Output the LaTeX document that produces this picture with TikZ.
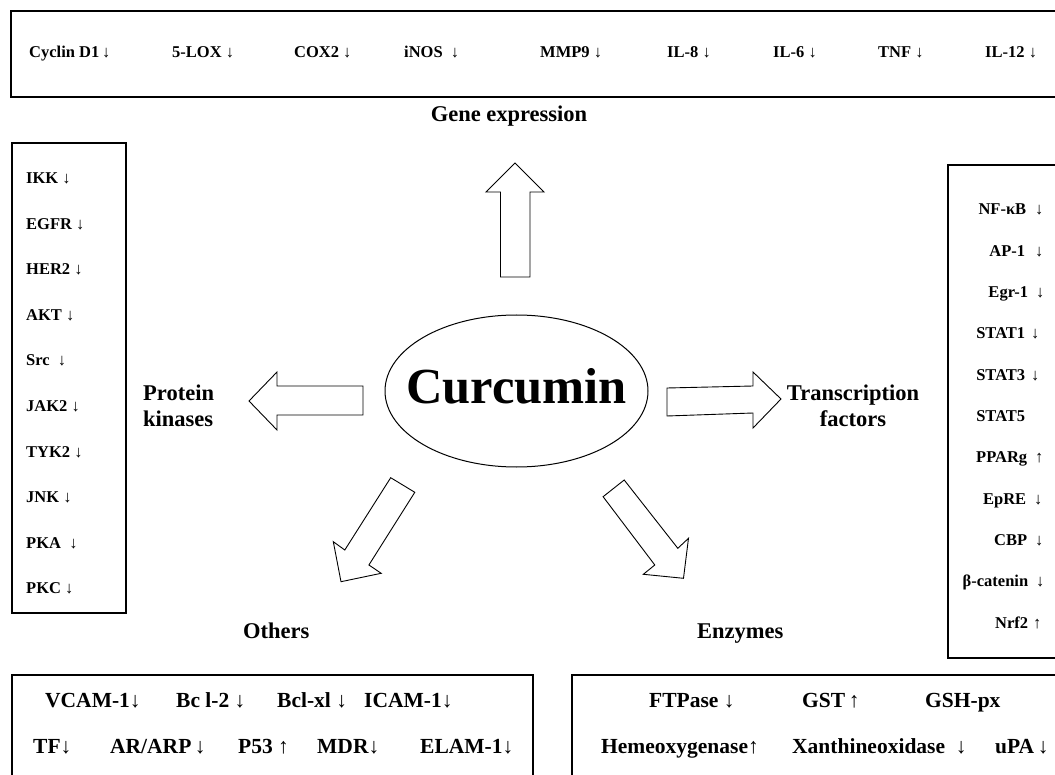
\documentclass[tikz,border=0pt]{standalone}
\usepackage{fontspec}
\setmainfont{Liberation Serif}
\usetikzlibrary{shapes.geometric}
\newcommand\darr{↓}
\newcommand\uarr{↑}
\begin{document}
\begin{tikzpicture}[x=1pt,y=-1pt,
  box/.style={draw,line width=1.3pt},
  item/.style={font=\fontsize{16.5}{19}\selectfont\bfseries, inner sep=0pt, anchor=base west},
  bitem/.style={font=\fontsize{21.5}{25}\selectfont\bfseries, inner sep=0pt, anchor=base west},
  lab/.style={font=\fontsize{22.5}{26}\selectfont\bfseries, inner sep=0pt},
  blk/.style={draw, line width=0.9pt, fill=white, line join=miter}]
\useasboundingbox (0,0) rectangle (1055,775);
\clip (0,0) rectangle (1055,775);
\fill[white] (0,0) rectangle (1055,775);

% boxes
\draw[box] (11,11) rectangle (1075,97);
\draw[box] (12,143) rectangle (126,613);
\draw[box] (948,165) rectangle (1075,658);
\draw[box] (12,675) rectangle (533,795);
\draw[box] (572,675) rectangle (1075,795);

% gene expression
\node[item] (g1) at (29,58) {Cyclin D1\,\darr};
\node[item] (g2) at (172,58) {5-LOX \darr};
\node[item] (g3) at (294,58) {COX2 \darr};
\node[item] (g4) at (404,58) {iNOS \ \darr};
\node[item] (g5) at (540,58) {MMP9 \darr};
\node[item] (g6) at (667,58) {IL-8 \darr};
\node[item] (g7) at (773,58) {IL-6 \darr};
\node[item] (g8) at (878,58) {TNF \darr};
\node[item] (g9) at (985,58) {IL-12 \darr};

% protein kinases
\node[item] (k1) at (26,184) {IKK \darr};
\node[item] (k2) at (26,229.5) {EGFR \darr};
\node[item] (k3) at (26,275) {HER2 \darr};
\node[item] (k4) at (26,320.5) {AKT \darr};
\node[item] (k5) at (26,366) {Src \ \darr};
\node[item] (k6) at (26,411.5) {JAK2 \darr};
\node[item] (k7) at (26,457) {TYK2 \darr};
\node[item] (k8) at (26,502.5) {JNK \darr};
\node[item] (k9) at (26,548) {PKA \ \darr};
\node[item] (k10) at (26,593.5) {PKC \darr};

% transcription factors
\node[item] (t1) at (958,215) {\makebox[68pt][r]{NF-κB}\hspace{9pt}\darr};
\node[item] (t2) at (958,256.3) {\makebox[67pt][r]{AP-1}\hspace{10pt}\darr};
\node[item] (t3) at (958,297.6) {\makebox[70pt][r]{Egr-1}\hspace{8pt}\darr};
\node[item] (t4) at (958,338.9) {\makebox[67pt][r]{STAT1}\hspace{6pt}\darr};
\node[item] (t5) at (958,380.2) {\makebox[67pt][r]{STAT3}\hspace{6pt}\darr};
\node[item] (t6) at (958,421.5) {\makebox[67pt][r]{STAT5}};
\node[item] (t7) at (958,462.8) {\makebox[69pt][r]{PPARg}\hspace{8pt}\uarr};
\node[item] (t8) at (958,504.1) {\makebox[68pt][r]{EpRE}\hspace{8pt}\darr};
\node[item] (t9) at (958,545.4) {\makebox[69pt][r]{CBP}\hspace{8pt}\darr};
\node[item] (t10) at (958,586.7) {\makebox[70pt][r]{β-catenin}\hspace{8pt}\darr};
\node[item] (t11) at (958,628) {\makebox[70pt][r]{Nrf2}\hspace{5pt}\uarr};

% others
\node[bitem] (o1) at (45,707) {VCAM-1\darr};
\node[bitem] (o2) at (176,707) {Bc l-2 \darr};
\node[bitem] (o3) at (277,707) {Bcl-xl \darr};
\node[bitem] (o4) at (364,707) {ICAM-1\darr};
\node[bitem] (o5) at (33,753) {TF\darr};
\node[bitem] (o6) at (110,753) {AR/ARP\,\darr};
\node[bitem] (o7) at (238,753) {P53 \uarr};
\node[bitem] (o8) at (317,753) {MDR\darr};
\node[bitem] (o9) at (420,753) {ELAM-1\darr};

% enzymes
\node[bitem] (e1) at (649,707) {FTPase \darr};
\node[bitem] (e2) at (802,707) {GST\,\uarr};
\node[bitem] (e3) at (925,707) {GSH-px};
\node[bitem] (e4) at (601,753) {Hemeoxygenase\uarr};
\node[bitem] (e5) at (792,753) {Xanthineoxidase \ \darr};
\node[bitem] (e6) at (995,753) {uPA\,\darr};

% category labels
\node[lab, anchor=base] (ge) at (509,122) {Gene expression};
\node[lab, anchor=west, align=left] (pk) at (143,405.5) {Protein\\kinases};
\node[lab, align=center] (tf) at (853,405.5) {Transcription\\factors};
\node[lab, anchor=base west] (ot) at (243,638) {Others};
\node[lab, anchor=base west] (en) at (697,638) {Enzymes};

% curcumin
\node[draw, ellipse, line width=1pt, minimum width=263pt, minimum height=152pt, inner sep=0pt] (cur) at (516.5,391) {};
\node[font=\fontsize{50.5}{55}\selectfont\bfseries, inner sep=0pt, anchor=base] (curtxt) at (516.5,403) {Curcumin};

% block arrows
\draw[blk] (500.5,277) -- (500.5,192) -- (486,192) -- (515,163) -- (544,192) -- (530,192) -- (530,277) -- cycle;
\draw[blk] (363,386) -- (277,386) -- (277,372) -- (249,401) -- (277,430) -- (277,415) -- (363,415) -- cycle;
\draw[blk] (667,388) -- (753,386) -- (753,372) -- (781,399) -- (753,428) -- (753,413) -- (667,416) -- cycle;
\draw[blk] (390.7,477.7) -- (414.8,492.3) -- (368.9,565) -- (381.2,573.3) -- (341,581.7) -- (333.3,541.7) -- (344.8,550) -- cycle;
\draw[blk] (624.2,480) -- (603.1,496.7) -- (654.8,565) -- (643.3,574.3) -- (683.5,578.3) -- (688.5,538.3) -- (677.8,548.3) -- cycle;
\end{tikzpicture}
\end{document}
